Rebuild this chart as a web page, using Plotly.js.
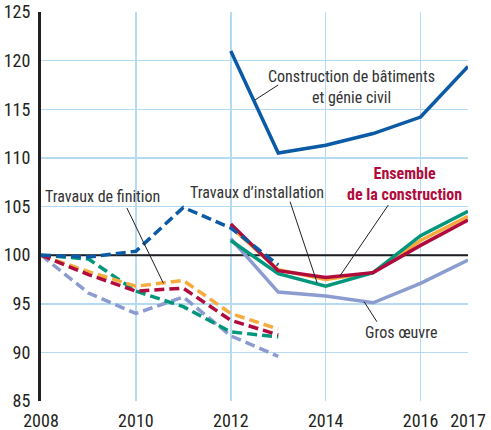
<!DOCTYPE html>
<html>
<head>
<meta charset="utf-8">
<script src="https://cdn.plot.ly/plotly-3.0.1.min.js"></script>
<style>html,body{margin:0;padding:0;background:#fff;}#chart{width:491px;height:430px;}</style>
</head>
<body>
<div id="chart"></div>
<script>
// Years
const yearsOld = [2008, 2009, 2010, 2011, 2012, 2013];
const yearsNew = [2012, 2013, 2014, 2015, 2016, 2017];
const xTicks = [2008, 2010, 2012, 2014, 2016, 2017];
const xRange = [2008, 2017];
const BASE = 100;

// Old base (dashed), 2008-2013
const batimentsOld   = [100, 99.8, 100.4, 104.9, 102.8, 99.0];
const ensembleOld    = [100, 98.0, 96.3, 96.6, 93.3, 91.8];
const finitionOld    = [100, 98.3, 96.8, 97.4, 94.0, 92.4];
const installationOld= [100, 99.6, 96.3, 94.7, 92.1, 91.6];
const grosOeuvreOld  = [100, 96.1, 94.0, 95.7, 91.7, 89.6];

// New base (solid), 2012-2017
const batimentsNew   = [121.0, 110.5, 111.3, 112.5, 114.2, 119.4];
const ensembleNew    = [103.2, 98.4, 97.7, 98.2, 101.0, 103.6];
const finitionNew    = [102.9, 98.5, 97.5, 98.2, 101.5, 104.0];
const installationNew= [101.5, 98.1, 96.8, 98.2, 102.0, 104.5];
const grosOeuvreNew  = [101.7, 96.2, 95.8, 95.1, 97.1, 99.5];

const C = {
  blue: '#0a5aa6',
  red: '#b00b3c',
  orange: '#f7ab3c',
  green: '#00967c',
  lav: '#8c9bd0',
  grid: '#b5dbf3',
  ink: '#231f20',
  text: '#333333'
};
const FONT = '"Liberation Sans Narrow", "Arial Narrow", "Roboto Condensed", "Liberation Sans", sans-serif';
const dash = '10px,5px';
const W = 3.5;

function tr(x, y, color, dashed) {
  return {x: x, y: y, type: 'scatter', mode: 'lines', hoverinfo: 'skip',
    line: {color: color, width: W, dash: dashed ? dash : 'solid'}};
}

const data = [
  {x: xRange, y: [BASE, BASE], type: 'scatter', mode: 'lines', hoverinfo: 'skip',
   line: {color: C.ink, width: 2}},
  tr(yearsOld, grosOeuvreOld, C.lav, true),
  tr(yearsOld, installationOld, C.green, true),
  tr(yearsOld, finitionOld, C.orange, true),
  tr(yearsOld, ensembleOld, C.red, true),
  tr(yearsNew, grosOeuvreNew, C.lav, false),
  tr(yearsNew, finitionNew, C.orange, false),
  tr(yearsNew, installationNew, C.green, false),
  tr(yearsNew, ensembleNew, C.red, false),
  tr(yearsNew, batimentsNew, C.blue, false),
  tr(yearsOld, batimentsOld, C.blue, true)
];

function leader(x0, y0, x1, y1) {
  return {type: 'line', xref: 'x', yref: 'y', x0: x0, y0: y0, x1: x1, y1: y1,
    line: {color: C.ink, width: 1}, layer: 'above'};
}

const shapes = [
  leader(2013.0, 117.5, 2012.51, 115.95),
  leader(2009.81, 104.85, 2010.58, 97.1),
  leader(2013.25, 105.49, 2013.82, 97.16),
  leader(2015.32, 105.15, 2014.30, 97.85),
  leader(2015.08, 93.15, 2014.81, 95.21)
];

function ann(x, y, text, opts) {
  return Object.assign({x: x, y: y, xref: 'x', yref: 'y', text: text, showarrow: false,
    xanchor: 'center', yanchor: 'middle', align: 'center',
    font: {family: FONT, size: 16, color: C.text}}, opts || {});
}

const annotations = [
  ann(2014.55, 117.27, 'Construction de bâtiments<br>et génie civil'),
  ann(2009.29, 106.08, 'Travaux de finition'),
  ann(2012.56, 106.39, 'Travaux d\u2019installation'),
  ann(2015.67, 107.29, '<b>Ensemble<br>de la construction</b>', {font: {family: FONT, size: 16, color: C.red}}),
  ann(2015.59, 92.07, 'Gros œuvre')
];

const layout = {
  width: 491, height: 430,
  margin: {l: 41, r: 23, t: 12, b: 29, pad: 0},
  paper_bgcolor: '#ffffff', plot_bgcolor: '#ffffff',
  showlegend: false,
  font: {family: FONT, size: 18, color: C.ink},
  xaxis: {range: xRange, tickmode: 'array', tickvals: xTicks, ticktext: xTicks.map(String),
    showgrid: true, gridcolor: C.grid, gridwidth: 1.5, zeroline: false, showline: false,
    ticks: '', ticklabelstandoff: 7, tickfont: {family: FONT, size: 18, color: C.ink}, fixedrange: true},
  yaxis: {range: [85, 125], tickmode: 'linear', tick0: 85, dtick: 5,
    showgrid: true, gridcolor: C.grid, gridwidth: 1.5, zeroline: false,
    showline: true, linecolor: C.ink, linewidth: 3, ticks: '', ticklabelstandoff: 4,
    tickfont: {family: FONT, size: 18, color: C.ink}, fixedrange: true},
  shapes: shapes,
  annotations: annotations
};

Plotly.newPlot('chart', data, layout, {displayModeBar: false, staticPlot: true});
</script>
</body>
</html>
